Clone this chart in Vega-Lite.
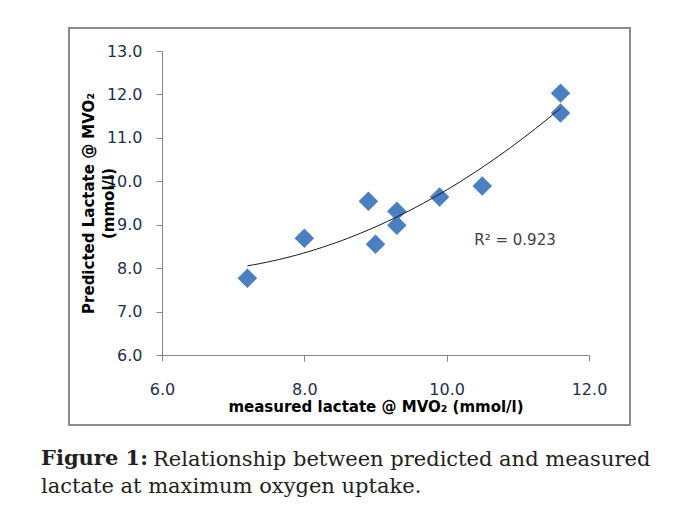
{
  "$schema": "https://vega.github.io/schema/vega-lite/v6.json",
  "autosize": {"type": "pad"},
  "padding": {"left": 40, "top": 27, "right": 5, "bottom": 5},
  "background": "white",
  "bounds": "flush",
  "datasets": {
    "points": [
      {"measured": 7.2, "predicted": 7.77},
      {"measured": 8.0, "predicted": 8.69},
      {"measured": 8.9, "predicted": 9.54},
      {"measured": 9.0, "predicted": 8.55},
      {"measured": 9.3, "predicted": 9.31},
      {"measured": 9.3, "predicted": 8.99},
      {"measured": 9.9, "predicted": 9.64},
      {"measured": 10.5, "predicted": 9.89},
      {"measured": 11.6, "predicted": 12.03},
      {"measured": 11.6, "predicted": 11.57}
    ],
    "annotation": [
      {"measured": 10.96, "predicted": 8.65, "label": "R² = 0.923"}
    ]
  },
  "title": {
    "text": "Relationship between predicted and measured",
    "orient": "bottom",
    "anchor": "start",
    "frame": "bounds",
    "dx": 113,
    "offset": -49,
    "font": "DejaVu Serif",
    "fontSize": 21,
    "fontWeight": "normal",
    "color": "#231f20"
  },
  "vconcat": [
    {
      "width": 561,
      "height": 397,
      "title": {
        "text": "Figure 1:",
        "subtitle": "lactate at maximum oxygen uptake.",
        "orient": "bottom",
        "anchor": "start",
        "frame": "bounds",
        "dx": -28,
        "offset": 23,
        "font": "DejaVu Serif",
        "fontSize": 21,
        "fontWeight": "bold",
        "color": "#231f20",
        "subtitleFont": "DejaVu Serif",
        "subtitleFontSize": 21,
        "subtitleFontWeight": "normal",
        "subtitleColor": "#231f20",
        "subtitlePadding": 7
      },
      "layer": [
        {
          "data": {"name": "points"},
          "mark": {"type": "point", "shape": "diamond", "filled": true, "size": 380, "color": "#4a7fc2", "opacity": 1},
          "encoding": {
            "x": {
              "field": "measured",
              "type": "quantitative",
              "scale": {"domain": [6, 12], "range": [93, 520], "nice": false, "zero": false},
              "axis": {
                "values": [6, 8, 10, 12],
                "format": ".1f",
                "offset": -70,
                "grid": false,
                "labelFlush": false,
                "domainColor": "#868686",
                "tickColor": "#868686",
                "tickSize": 6,
                "labelPadding": 20,
                "labelFont": "DejaVu Sans",
                "labelFontSize": 16,
                "labelColor": "#1f2f4f",
                "title": "measured lactate @ MVO₂ (mmol/l)",
                "titleFont": "DejaVu Sans",
                "titleFontSize": 15,
                "titleFontWeight": "bold",
                "titleColor": "#000000",
                "titlePadding": 2
              }
            },
            "y": {
              "field": "predicted",
              "type": "quantitative",
              "scale": {"domain": [6, 13], "range": [327, 23], "nice": false, "zero": false},
              "axis": {
                "values": [6, 7, 8, 9, 10, 11, 12, 13],
                "format": ".1f",
                "offset": -93,
                "grid": false,
                "labelFlush": false,
                "domainColor": "#868686",
                "tickColor": "#868686",
                "tickSize": 6,
                "labelPadding": 14,
                "labelFont": "DejaVu Sans",
                "labelFontSize": 16,
                "labelColor": "#1f2f4f",
                "title": ["Predicted Lactate  @ MVO₂", "(mmol/l)"],
                "titleFont": "DejaVu Sans",
                "titleFontSize": 15,
                "titleFontWeight": "bold",
                "titleColor": "#000000",
                "titleAngle": -90,
                "titleBaseline": "alphabetic",
                "titleAlign": "center",
                "titleLineHeight": 20,
                "titleX": -69
              }
            }
          }
        },
        {
          "data": {"name": "points"},
          "transform": [
            {"regression": "predicted", "on": "measured", "method": "poly", "order": 2}
          ],
          "mark": {"type": "line", "color": "#1a1a1a", "strokeWidth": 1},
          "encoding": {
            "x": {"field": "measured", "type": "quantitative"},
            "y": {"field": "predicted", "type": "quantitative"}
          }
        },
        {
          "data": {"name": "annotation"},
          "mark": {"type": "text", "font": "DejaVu Sans", "fontSize": 15, "color": "#404040", "align": "center", "baseline": "middle"},
          "encoding": {
            "x": {"field": "measured", "type": "quantitative"},
            "y": {"field": "predicted", "type": "quantitative"},
            "text": {"field": "label"}
          }
        }
      ]
    }
  ],
  "config": {
    "view": {"stroke": "#8c8c8c", "strokeWidth": 2}
  }
}
